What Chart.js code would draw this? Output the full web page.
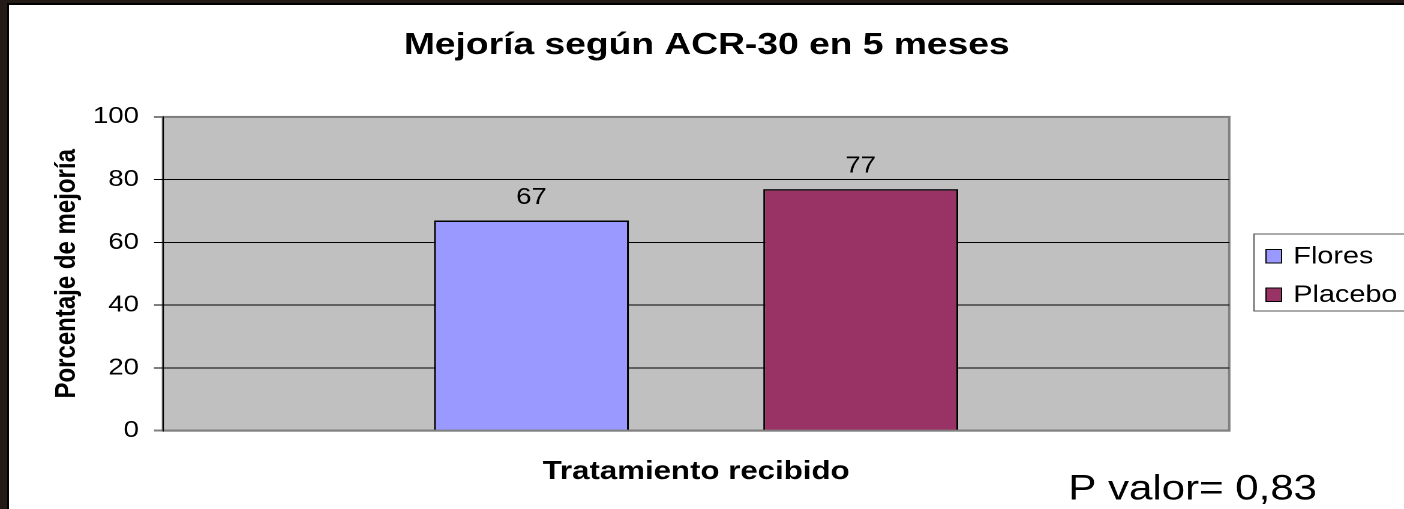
<!DOCTYPE html>
<html>
<head>
<meta charset="utf-8">
<script src="https://cdn.jsdelivr.net/npm/chart.js@4.4.1/dist/chart.umd.min.js"></script>
<style>
    html, body { margin: 0; padding: 0; width: 1404px; height: 509px; overflow: hidden; background: #241b16; }
    #frame { position: absolute; left: 7px; top: 3px; width: 1400px; height: 510px; background: #000; }
    #chart { position: absolute; left: 9px; top: 5px; background: #fff; transform: scaleX(1.2); transform-origin: 0 0; }
</style>
</head>
<body>
<div id="frame"></div>
<canvas id="chart" width="1163" height="504"></canvas>
<script>
// data
const categories = [''];
const seriesNames = ['Flores', 'Placebo'];
const seriesColors = ['#9999ff', '#993366'];
const floresValues = [67];
const placeboValues = [77];
const yTicks = [0, 20, 40, 60, 80, 100];
const chartTitle = 'Mejoría según ACR-30 en 5 meses';
const yTitle = 'Porcentaje de mejoría';
const xTitle = 'Tratamiento recibido';
const note = 'P valor= 0,83';

const FONT = "'Liberation Sans', Arial, sans-serif";
Chart.defaults.font.family = FONT;
Chart.defaults.color = '#000';

/**
 * Grey plot background with border
 */
const plotBackground = {
    id: 'plotBackground',
    beforeDraw(chart) {
        const { ctx, chartArea: a } = chart;
        ctx.save();
        ctx.fillStyle = '#c0c0c0';
        ctx.fillRect(a.left, a.top, a.right - a.left, a.bottom - a.top);
        ctx.strokeStyle = '#808080';
        ctx.lineWidth = 2;
        ctx.strokeRect(a.left, a.top, a.right - a.left, a.bottom - a.top);
        ctx.restore();
    }
};

/**
 * Value labels above bars
 */
const valueLabels = {
    id: 'valueLabels',
    afterDatasetsDraw(chart) {
        const ctx = chart.ctx;
        ctx.save();
        ctx.font = '23px ' + FONT;
        ctx.fillStyle = '#000';
        ctx.textAlign = 'center';
        ctx.textBaseline = 'alphabetic';
        chart.data.datasets.forEach((ds, i) => {
            chart.getDatasetMeta(i).data.forEach((bar, j) => {
                ctx.fillText(String(ds.data[j]), bar.x, bar.y - 16.5);
            });
        });
        ctx.restore();
    }
};

/**
 * Boxed legend on the right + p value note
 */
const boxedLegend = {
    id: 'boxedLegend',
    afterDraw(chart) {
        const ctx = chart.ctx;
        ctx.save();
        ctx.strokeStyle = '#555';
        ctx.lineWidth = 1;
        ctx.fillStyle = '#fff';
        ctx.fillRect(1037.5, 229, 160, 77);
        ctx.strokeRect(1037.5, 229, 160, 77);

        ctx.font = '24px ' + FONT;
        ctx.textBaseline = 'alphabetic';
        ctx.textAlign = 'left';
        chart.data.datasets.forEach((ds, i) => {
            let top = 244.5 + i * 38.5;
            ctx.fillStyle = ds.backgroundColor;
            ctx.fillRect(1047.5, top, 13, 13.5);
            ctx.strokeStyle = '#000';
            ctx.strokeRect(1047.5, top, 13, 13.5);
            ctx.fillStyle = '#000';
            ctx.fillText(ds.label, 1070.3, top + 14);
        });

        ctx.font = '35px ' + FONT;
        ctx.fillText(note, 882.8, 494.5);
        ctx.restore();
    }
};

let ctx = document.getElementById('chart').getContext('2d');
let myChart = new Chart(ctx, {
    type: 'bar',
    data: {
        labels: categories,
        datasets: [{
            label: seriesNames[0],
            data: floresValues,
            backgroundColor: seriesColors[0],
            borderColor: '#000',
            borderWidth: 1.6
        }, {
            label: seriesNames[1],
            data: placeboValues,
            backgroundColor: seriesColors[1],
            borderColor: '#000',
            borderWidth: 1.6
        }]
    },
    options: {
        responsive: false,
        animation: false,
        devicePixelRatio: 2,
        categoryPercentage: 0.6176,
        barPercentage: 0.592,
        layout: {
            padding: 0
        },
        plugins: {
            legend: { display: false },
            tooltip: { enabled: false },
            title: {
                display: true,
                text: chartTitle,
                font: { size: 31, weight: 'bold' },
                color: '#000',
                padding: { top: 22, bottom: 52.7 }
            }
        },
        scales: {
            x: {
                grid: { display: false },
                border: { display: false },
                ticks: { display: false },
                title: {
                    display: true,
                    text: xTitle,
                    font: { size: 26, weight: 'bold' },
                    color: '#000',
                    padding: { top: 0, bottom: 21.4 }
                },
                afterFit(scale) { scale.height = 78.3; }
            },
            y: {
                min: 0,
                max: 100,
                afterBuildTicks(scale) {
                    scale.ticks = yTicks.map(v => ({ value: v }));
                },
                ticks: {
                    font: { size: 23 },
                    color: '#000',
                    padding: 12.5
                },
                grid: {
                    color: (c) => (c.tick && (c.tick.value === 0 || c.tick.value === 100)) ? '#808080' : '#000',
                    lineWidth: (c) => (c.tick && (c.tick.value === 0 || c.tick.value === 100)) ? 2 : 1,
                    tickLength: 7.5
                },
                border: { display: true, color: '#000', width: 1 },
                title: {
                    display: true,
                    text: yTitle,
                    font: { size: 24, weight: 'bold' },
                    color: '#000',
                    padding: { top: 34, bottom: 0 }
                },
                afterFit(scale) { scale.width = 128.3; }
            },
            // empty right-hand box that keeps room for the legend
            legendSpace: {
                type: 'linear',
                position: 'right',
                display: true,
                grid: { display: false },
                border: { display: false },
                ticks: { display: false },
                afterFit(scale) { scale.width = 146.1; }
            }
        }
    },
    plugins: [plotBackground, valueLabels, boxedLegend]
});
</script>
</body>
</html>
